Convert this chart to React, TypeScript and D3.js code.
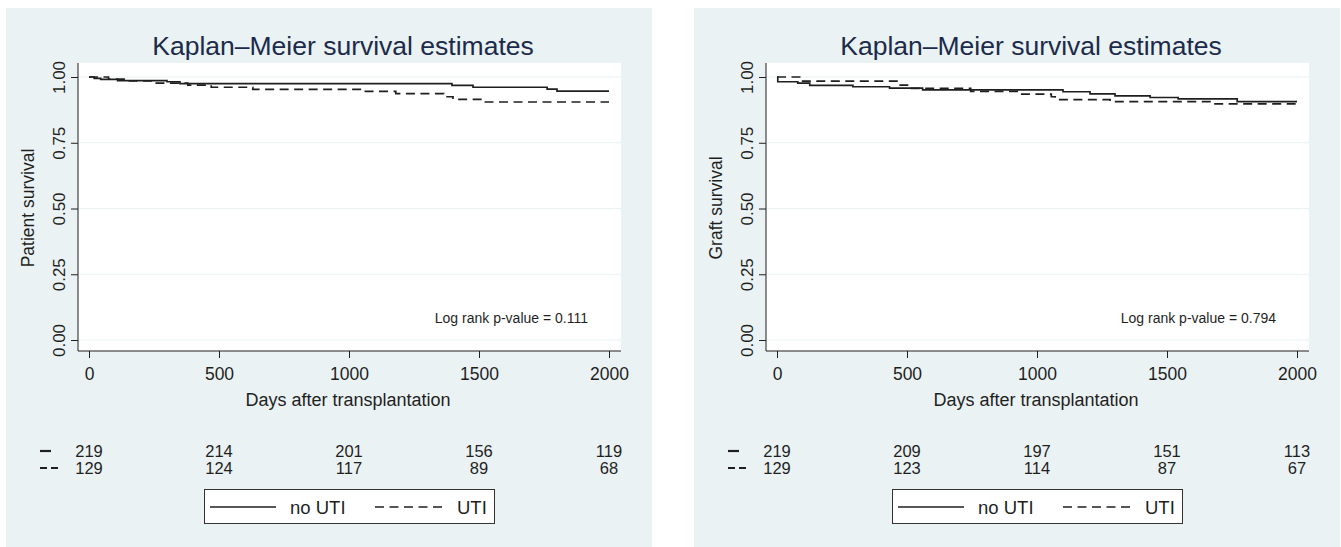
import React, { useEffect, useRef } from "react";
import * as d3 from "d3";

type Step = [number, number];

const xTicks = [0, 500, 1000, 1500, 2000];
const yTicks = [0, 0.25, 0.5, 0.75, 1];
const groupNames = ["no UTI", "UTI"];
const maxDays = 2000;

// patient survival (left panel): [day, survival]
const patientNoUti: Step[] = [
  [0, 1.0], [20, 0.995], [45, 0.991], [110, 0.986], [300, 0.982], [350, 0.975],
  [1396, 0.968], [1477, 0.961], [1762, 0.954], [1800, 0.946],
];
const patientUti: Step[] = [
  [0, 1.0], [75, 0.992], [140, 0.985], [250, 0.977], [380, 0.969], [470, 0.961],
  [630, 0.953], [1055, 0.945], [1180, 0.937], [1365, 0.925], [1400, 0.915], [1520, 0.905],
];
const patientRiskNoUti = [219, 214, 201, 156, 119];
const patientRiskUti = [129, 124, 117, 89, 68];

// graft survival (right panel)
const graftNoUti: Step[] = [
  [0, 1.0], [3, 0.982], [80, 0.977], [126, 0.968], [292, 0.963], [433, 0.958],
  [560, 0.951], [1100, 0.944], [1204, 0.936], [1300, 0.928], [1435, 0.922],
  [1543, 0.917], [1770, 0.906],
];
const graftUti: Step[] = [
  [0, 1.0], [92, 0.984], [470, 0.969], [510, 0.957], [745, 0.945], [935, 0.935],
  [1055, 0.925], [1070, 0.914], [1281, 0.906], [1670, 0.898],
];
const graftRiskNoUti = [219, 209, 197, 151, 113];
const graftRiskUti = [129, 123, 114, 87, 67];

const FONT = "'Liberation Sans', Arial, sans-serif";
const BG = "#eaf2f3";
const INK = "#1f1f1f";
const DASH = "9,5.5";

type PanelOpts = {
  ox: number;
  yLabel: string;
  pValue: string;
  curves: Step[][];
  risk: number[][];
};

function drawPanel(svg: d3.Selection<SVGSVGElement, unknown, null, undefined>, o: PanelOpts) {
  const g = svg.append("g").attr("transform", `translate(${o.ox},0)`);

  g.append("rect").attr("x", 6).attr("y", 8).attr("width", 646).attr("height", 539).attr("fill", BG);

  g.append("text")
    .attr("x", 343).attr("y", 55)
    .attr("text-anchor", "middle")
    .style("font-family", FONT).style("font-size", "26.5px")
    .attr("fill", "#1c2b4b")
    .text("Kaplan\u2013Meier survival estimates");

  const left = 78, right = 621, top = 63, bottom = 351;
  g.append("rect").attr("x", left).attr("y", top).attr("width", right - left).attr("height", bottom - top).attr("fill", "#fff");

  const x = d3.scaleLinear().domain([0, maxDays]).range([89, 609]);
  const y = d3.scaleLinear().domain([0, 1]).range([340, 77]);

  // gridlines
  g.append("g").selectAll("line").data(yTicks).join("line")
    .attr("x1", left + 1).attr("x2", right)
    .attr("y1", (d) => y(d)).attr("y2", (d) => y(d))
    .attr("stroke", BG).attr("stroke-width", 1.2);

  // y axis
  const ya = g.append("g").attr("transform", `translate(${left},0)`)
    .call(d3.axisLeft(y).tickValues(yTicks).tickFormat(d3.format(".2f")).tickSize(7));
  ya.select(".domain").remove();
  ya.selectAll("line").attr("stroke", INK);
  ya.selectAll("text")
    .attr("transform", "rotate(-90)")
    .attr("x", 0).attr("y", -13).attr("dy", null)
    .attr("text-anchor", "middle")
    .attr("fill", INK)
    .style("font-family", FONT).style("font-size", "17px");
  g.append("line").attr("x1", left).attr("x2", left).attr("y1", top).attr("y2", bottom).attr("stroke", INK);

  // x axis
  const xa = g.append("g").attr("transform", `translate(0,${bottom})`)
    .call(d3.axisBottom(x).tickValues(xTicks).tickFormat(d3.format("d")).tickSize(7));
  xa.select(".domain").remove();
  xa.selectAll("line").attr("stroke", INK);
  xa.selectAll("text")
    .attr("y", 17)
    .attr("fill", INK)
    .style("font-family", FONT).style("font-size", "17.5px");
  g.append("line").attr("x1", left).attr("x2", right).attr("y1", bottom).attr("y2", bottom).attr("stroke", INK);

  g.append("text")
    .attr("x", 348).attr("y", 406).attr("text-anchor", "middle")
    .style("font-family", FONT).style("font-size", "18px").attr("fill", INK)
    .text("Days after transplantation");

  g.append("text")
    .attr("transform", `translate(34,208) rotate(-90)`)
    .attr("text-anchor", "middle")
    .style("font-family", FONT).style("font-size", "17.5px").attr("fill", INK)
    .text(o.yLabel);

  // KM step curves
  const line = d3.line<Step>().x((d) => x(d[0])).y((d) => y(d[1])).curve(d3.curveStepAfter);
  o.curves.forEach((c, i) => {
    const pts: Step[] = [...c, [maxDays, c[c.length - 1][1]]];
    g.append("path")
      .attr("d", line(pts))
      .attr("fill", "none")
      .attr("stroke", INK)
      .attr("stroke-width", 1.7)
      .attr("stroke-dasharray", i === 1 ? DASH : null);
  });

  g.append("text")
    .attr("x", 588).attr("y", 323).attr("text-anchor", "end")
    .style("font-family", FONT).style("font-size", "14px").attr("fill", INK)
    .text(`Log rank p-value = ${o.pValue}`);

  // numbers at risk
  const rowY = [451, 468];
  o.risk.forEach((row, i) => {
    g.append("g").selectAll("text").data(row).join("text")
      .attr("x", (_, j) => x(xTicks[j]))
      .attr("y", rowY[i] + 6)
      .attr("text-anchor", "middle")
      .style("font-family", FONT).style("font-size", "16.5px").attr("fill", INK)
      .text((d) => d);
  });
  g.append("line").attr("x1", 40).attr("x2", 51).attr("y1", rowY[0]).attr("y2", rowY[0]).attr("stroke", INK).attr("stroke-width", 2.2);
  g.append("line").attr("x1", 40).attr("x2", 58).attr("y1", rowY[1]).attr("y2", rowY[1]).attr("stroke", INK).attr("stroke-width", 2.2).attr("stroke-dasharray", "7,4");

  // legend
  const lg = g.append("g");
  lg.append("rect").attr("x", 204.5).attr("y", 489.5).attr("width", 290).attr("height", 34)
    .attr("fill", "#fff").attr("stroke", "#333").attr("stroke-width", 1);
  const items = [
    { x1: 210, x2: 276, tx: 290, dash: null as string | null },
    { x1: 375, x2: 442, tx: 457, dash: DASH },
  ];
  items.forEach((it, i) => {
    lg.append("line").attr("x1", it.x1).attr("x2", it.x2).attr("y1", 507).attr("y2", 507)
      .attr("stroke", INK).attr("stroke-width", 1.7).attr("stroke-dasharray", it.dash);
    lg.append("text").attr("x", it.tx).attr("y", 514)
      .style("font-family", FONT).style("font-size", "18.5px").attr("fill", INK)
      .text(groupNames[i]);
  });
}

export default function App() {
  const ref = useRef<SVGSVGElement>(null);

  useEffect(() => {
    const svg = d3.select(ref.current!);
    svg.selectAll("*").remove();

    drawPanel(svg, {
      ox: 0,
      yLabel: "Patient survival",
      pValue: "0.111",
      curves: [patientNoUti, patientUti],
      risk: [patientRiskNoUti, patientRiskUti],
    });
    drawPanel(svg, {
      ox: 688,
      yLabel: "Graft survival",
      pValue: "0.794",
      curves: [graftNoUti, graftUti],
      risk: [graftRiskNoUti, graftRiskUti],
    });
  }, []);

  return (
    <svg
      ref={ref}
      width={1341}
      height={547}
      style={{ position: "absolute", left: 0, top: 0, background: "#fff" }}
    />
  );
}
